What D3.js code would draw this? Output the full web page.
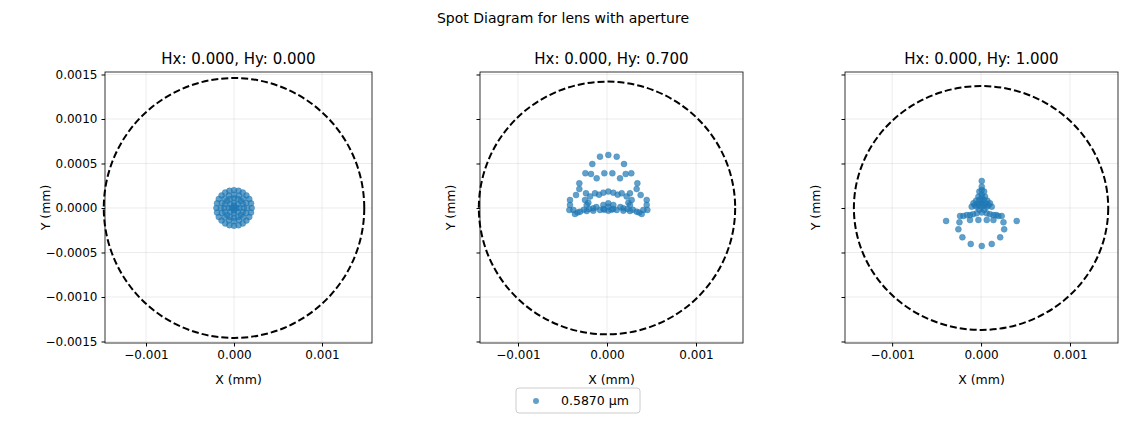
<!DOCTYPE html>
<html><head><meta charset="utf-8">
<script src="https://cdn.jsdelivr.net/npm/d3@7"></script>
<style>body{margin:0;background:#fff}text{font-family:"DejaVu Sans",sans-serif}</style>
</head><body>
<script>
// spot coordinates in units of 1e-4 mm
var titles = ["Hx: 0.000, Hy: 0.000", "Hx: 0.000, Hy: 0.700", "Hx: 0.000, Hy: 1.000"];
var xDomains = [[-0.001466, 0.001568], [-0.001427, 0.001528], [-0.00153, 0.00154]];
var yDomain = [-0.001517, 0.001528];
var circleR = [[0.00148, 0.00146], [0.00144, 0.00142], [0.00143, 0.00137]];
var xTicks = [-0.001, 0, 0.001];
var yTicks = [-0.0015, -0.001, -0.0005, 0, 0.0005, 0.001, 0.0015];
var wavelength = "0.5870 µm";

var spots0 = [[2,0],[1.73,1],[1,1.73],[0,2],[-1,1.73],[-1.73,1],[-2,0],[-1.73,-1],[-1,-1.73],[0,-2],[1,-1.73],[1.73,-1],
  [1.93,0.52],[1.41,1.41],[0.52,1.93],[-0.52,1.93],[-1.41,1.41],[-1.93,0.52],[-1.93,-0.52],[-1.41,-1.41],[-0.52,-1.93],[0.52,-1.93],[1.41,-1.41],[1.93,-0.52],
  [1.5,0],[1.06,1.06],[0,1.5],[-1.06,1.06],[-1.5,0],[-1.06,-1.06],[0,-1.5],[1.06,-1.06],
  [1.39,0.57],[0.57,1.39],[-0.57,1.39],[-1.39,0.57],[-1.39,-0.57],[-0.57,-1.39],[0.57,-1.39],[1.39,-0.57],
  [1.1,0],[0.78,0.78],[0,1.1],[-0.78,0.78],[-1.1,0],[-0.78,-0.78],[0,-1.1],[0.78,-0.78],
  [1,0.45],[0.45,1],[-0.45,1],[-1,0.45],[-1,-0.45],[-0.45,-1],[0.45,-1],[1,-0.45],
  [0.6,0],[0.42,0.42],[0,0.6],[-0.42,0.42],[-0.6,0],[-0.42,-0.42],[0,-0.6],[0.42,-0.42],
  [0.25,0],[0,0.25],[-0.25,0],[0,-0.25],[0,0]];
var spots1 = [[-0.79,5.77],[0.15,5.96],[1.09,5.77],[-1.65,4.94],[1.91,4.94],[-2.43,3.9],[2.73,3.9],[-3.11,2.77],[3.41,2.77],
  [-3.48,1.46],[3.78,1.46],[-4.16,0.34],[4.46,0.34],[-4.23,-0.22],[4.53,-0.22],
  [-1.8,3.82],[-0.3,3.9],[0.6,3.9],[2.1,3.82],[-1.16,3.33],[1.46,3.33],[-3.11,2.13],[3.33,2.13],[-2.36,1.65],[2.58,1.65],
  [-1.35,1.65],[-0.41,1.72],[0.15,1.84],[0.71,1.72],[1.65,1.65],[-2.47,0.9],[2.77,0.9],[-2.28,0.34],[2.58,0.34],
  [-1.54,-0.04],[1.84,-0.04],[-0.79,-0.22],[1.09,-0.22],[0.15,0.15],[-0.41,0.34],[0.71,0.34],[0.15,0.52],
  [-3.78,-0.22],[4.08,-0.22],[-3.6,-0.67],[3.9,-0.67],[-3.03,-0.41],[3.33,-0.41],[-2.28,-0.34],[2.58,-0.34],
  [-1.54,-0.3],[1.84,-0.3],[-4.16,0.9],[4.46,0.9],[-0.3,-0.2],[0.5,-0.2],[0.15,-0.3],
  [-1.9,1.3],[2.2,1.3],[-2.1,0.6],[2.4,0.6],[-0.9,1.5],[1.2,1.5],[-1.2,0.1],[1.5,0.1],[-0.4,-0.1],[0.7,-0.1],
  [-2.6,-0.2],[2.9,-0.2],[-3.3,-0.5],[3.6,-0.5],[-2.0,-0.1],[2.3,-0.1]];
var spots2 = [[0.08,3.03],[0.08,2.02],[-0.19,1.84],[0.34,1.84],[-0.3,1.27],[0.45,1.27],[-0.56,0.82],[0.71,0.82],
  [-0.86,0.53],[1.0,0.53],[0.08,0.53],[-1.05,0.15],[1.2,0.15],[0.08,0.15],[-0.49,0.15],[0.64,0.15],
  [-2.36,-0.9],[2.32,-0.9],[-1.99,-0.9],[1.95,-0.9],[-1.24,-0.79],[1.39,-0.79],[-0.49,-0.6],[0.64,-0.6],
  [-1.24,-1.35],[-0.3,-1.35],[0.64,-1.35],[1.39,-1.35],[-3.93,-1.46],[4.01,-1.46],[-2.43,-1.61],[2.52,-1.61],
  [-2.55,-2.4],[2.6,-2.4],[-2.1,-3.3],[2.15,-3.3],[-1.16,-4.04],[1.2,-4.04],[0.08,-4.27],[0.08,0.9],[0.08,1.5],
  [0.08,1.2],[-0.2,0.9],[0.35,0.9],[-0.35,0.5],[0.5,0.5],[-0.7,0.3],[0.85,0.3],[-0.2,0.3],[0.35,0.3],
  [-1.6,-0.8],[1.7,-0.8],[-0.9,-0.7],[1.0,-0.7],[0.08,-0.5],[-0.2,-0.2],[0.35,-0.2],[0.08,2.4]];
var spots = [spots0, spots1, spots2];

var panels = [[105, 372], [480, 743], [845, 1118]];
var plotTop = 72, plotBottom = 343;
var color = "#1f77b4";
var fmtY = function(d) { return d3.format(".4f")(d).replace("-", "\u2212"); };
var fmtX = function(d) { return d3.format(".3f")(d).replace("-", "\u2212"); };

var svg = d3.select("body").append("svg").attr("width", 1126).attr("height", 424);

svg.append("text").attr("x", 563).attr("y", 23).attr("text-anchor", "middle")
  .style("font-size", "14px").text("Spot Diagram for lens with aperture");

var y = d3.scaleLinear().domain(yDomain).range([plotBottom, plotTop]);

for (var i = 0; i < 3; ++i) {
  var x = d3.scaleLinear().domain(xDomains[i]).range(panels[i]);
  var g = svg.append("g");

  xTicks.forEach(function(t) {
    g.append("line").attr("x1", x(t)).attr("x2", x(t)).attr("y1", plotTop).attr("y2", plotBottom)
      .style("stroke", "#b0b0b0").style("stroke-opacity", 0.3).style("stroke-width", 0.8);
  });
  yTicks.forEach(function(t) {
    g.append("line").attr("x1", panels[i][0]).attr("x2", panels[i][1]).attr("y1", y(t)).attr("y2", y(t))
      .style("stroke", "#b0b0b0").style("stroke-opacity", 0.3).style("stroke-width", 0.8);
  });

  g.append("ellipse").attr("cx", x(0)).attr("cy", y(0))
    .attr("rx", x(circleR[i][0]) - x(0)).attr("ry", y(0) - y(circleR[i][1]))
    .style("fill", "none").style("stroke", "black").style("stroke-width", 2)
    .style("stroke-dasharray", "7,3");

  g.selectAll("circle.spot").data(spots[i]).enter().append("circle").attr("class", "spot")
    .attr("cx", function(d) { return x(d[0] * 1e-4); })
    .attr("cy", function(d) { return y(d[1] * 1e-4); })
    .attr("r", 3)
    .style("fill", color).style("fill-opacity", 0.7)
    .style("stroke", color).style("stroke-opacity", 0.7).style("stroke-width", 0.5);

  g.append("g").attr("transform", "translate(0," + plotBottom + ")")
    .call(d3.axisBottom(x).tickValues(xTicks).tickFormat(fmtX).tickSize(3.5).tickPadding(4))
    .call(function(a) { a.select(".domain").remove(); a.selectAll("text").style("font-size", "12px").style("fill", "#000"); });
  g.append("g").attr("transform", "translate(" + panels[i][0] + ",0)")
    .call(d3.axisLeft(y).tickValues(yTicks).tickFormat(i == 0 ? fmtY : "").tickSize(3.5).tickPadding(4))
    .call(function(a) { a.select(".domain").remove(); a.selectAll("text").style("font-size", "12px").style("fill", "#000"); });

  g.append("rect").attr("x", panels[i][0]).attr("y", plotTop)
    .attr("width", panels[i][1] - panels[i][0]).attr("height", plotBottom - plotTop)
    .style("fill", "none").style("stroke", "black").style("stroke-width", 0.8);

  var cx = (panels[i][0] + panels[i][1]) / 2;
  g.append("text").attr("x", cx).attr("y", plotTop - 8).attr("text-anchor", "middle")
    .style("font-size", "15px").text(titles[i]);
  g.append("text").attr("x", cx).attr("y", 384).attr("text-anchor", "middle")
    .style("font-size", "12.5px").text("X (mm)");
  var ly = i == 0 ? 50 : panels[i][0] - 25;
  g.append("text").attr("transform", "translate(" + ly + "," + (plotTop + plotBottom) / 2 + ") rotate(-90)")
    .attr("text-anchor", "middle").style("font-size", "12.5px").text("Y (mm)");
}

var leg = svg.append("g");
leg.append("rect").attr("x", 516).attr("y", 388).attr("width", 124).attr("height", 25).attr("rx", 3)
  .style("fill", "#fff").style("stroke", "#ccc");
leg.append("circle").attr("cx", 536).attr("cy", 401).attr("r", 3)
  .style("fill", color).style("fill-opacity", 0.7);
leg.append("text").attr("x", 561).attr("y", 405).style("font-size", "12.5px").text(wavelength);
</script>
</body></html>
